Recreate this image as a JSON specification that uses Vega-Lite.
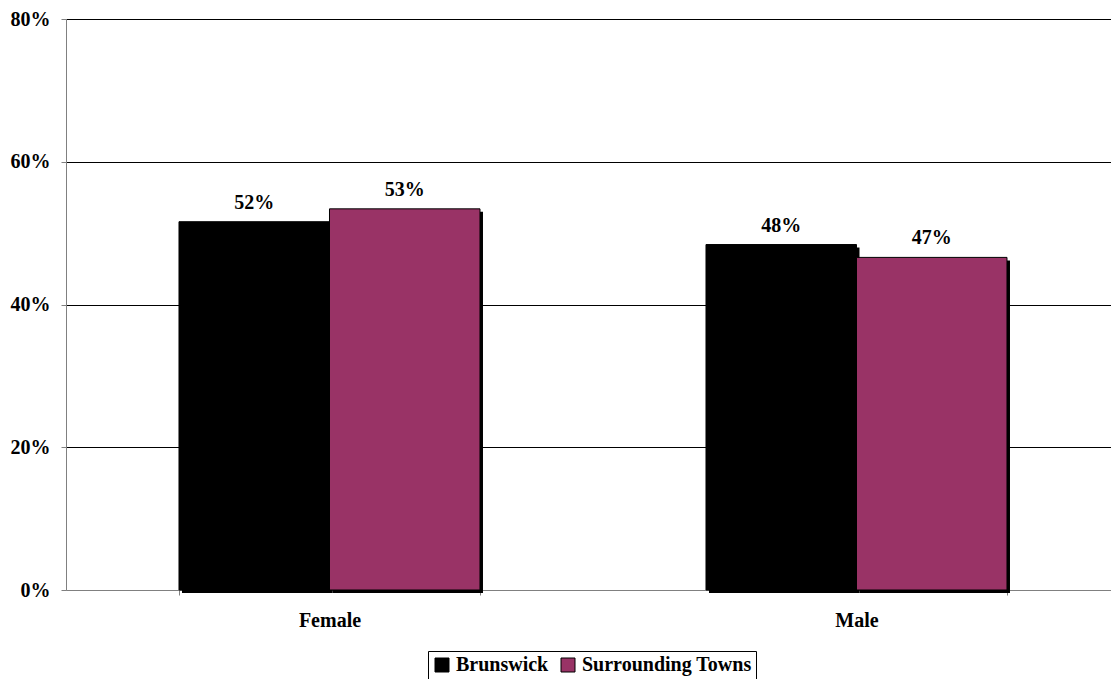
{
  "$schema": "https://vega.github.io/schema/vega-lite/v6.json",
  "width": 1044,
  "height": 571,
  "autosize": {"type": "none"},
  "padding": {"left": 66, "top": 19, "right": 1, "bottom": 89},
  "background": "white",
  "config": {
    "view": {"stroke": null},
    "font": "Times New Roman, Liberation Serif, serif",
    "axis": {"labelFont": "Times New Roman, Liberation Serif, serif", "labelFontWeight": "bold", "labelColor": "black"}
  },
  "data": {
    "values": [
      {"gender": "Female", "area": "Brunswick", "value": 0.516},
      {"gender": "Female", "area": "Surrounding Towns", "value": 0.534},
      {"gender": "Male", "area": "Brunswick", "value": 0.484},
      {"gender": "Male", "area": "Surrounding Towns", "value": 0.466}
    ]
  },
  "encoding": {
    "x": {
      "field": "gender", "type": "nominal", "title": null,
      "scale": {"paddingInner": 0.4288, "paddingOuter": 0.2144, "range": [0, 1054]},
      "axis": {"labelAngle": 0, "labelFontSize": 20, "labelPadding": 15, "domainColor": "#808080", "tickColor": "#808080", "tickBand": "extent", "tickSize": 5, "grid": false}
    },
    "y": {
      "field": "value", "type": "quantitative", "title": null,
      "scale": {"domain": [0, 0.8]},
      "axis": {"format": ".0%", "values": [0, 0.2, 0.4, 0.6, 0.8], "labelOverlap": false, "labelFontSize": 20, "labelPadding": 11, "labelBaseline": "middle", "domainColor": "#808080", "tickColor": "#808080", "tickSize": 5,
        "gridColor": {"condition": {"test": "datum.value === 0", "value": "#808080"}, "value": "#000000"}, "gridWidth": 1}
    }
  },
  "resolve": {"scale": {"xOffset": "independent"}},
  "layer": [
    {
      "mark": {"type": "bar", "color": "black", "yOffset": 3},
      "encoding": {
        "xOffset": {"field": "area", "type": "nominal", "scale": {"paddingInner": 0, "paddingOuter": 0, "range": [3, 304]}}
      }
    },
    {
      "mark": {"type": "bar", "stroke": "black", "strokeWidth": 1},
      "encoding": {
        "xOffset": {"field": "area", "type": "nominal", "scale": {"paddingInner": 0, "paddingOuter": 0, "range": [0, 301]}},
        "color": {
          "field": "area", "type": "nominal", "title": null,
          "scale": {"domain": ["Brunswick", "Surrounding Towns"], "range": ["#000000", "#993366"]},
          "legend": {
            "orient": "none", "legendX": 362, "legendY": 632, "direction": "horizontal",
            "strokeColor": "black", "padding": 4, "symbolType": "square", "symbolSize": 196,
            "symbolStrokeColor": "black", "symbolStrokeWidth": 1, "symbolOpacity": 1,
            "labelFont": "Times New Roman, Liberation Serif, serif", "labelFontSize": 20, "labelFontWeight": "bold", "labelColor": "black",
            "labelLimit": 400, "columnPadding": 9, "labelOffset": 4
          }
        }
      }
    },
    {
      "mark": {"type": "text", "baseline": "alphabetic", "dy": -13, "font": "Times New Roman, Liberation Serif, serif", "fontSize": 20, "fontWeight": "bold", "color": "black"},
      "encoding": {
        "xOffset": {"field": "area", "type": "nominal", "scale": {"type": "point", "padding": 0, "range": [75.25, 225.75]}},
        "text": {"field": "value", "type": "quantitative", "format": ".0%"}
      }
    }
  ]
}
